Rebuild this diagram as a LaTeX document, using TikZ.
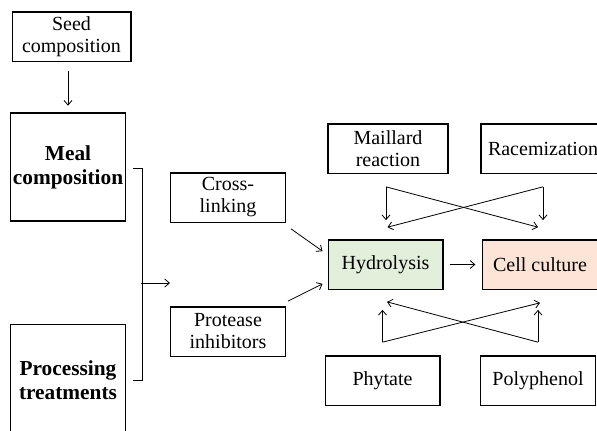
\documentclass[tikz,border=0pt]{standalone}
\usepackage{fontspec}
\setmainfont{Liberation Serif}
\usetikzlibrary{arrows.meta,positioning,calc}
\definecolor{HydroGreen}{HTML}{E2EFDA}
\definecolor{CellOrange}{HTML}{FCE4D6}

\begin{document}
\begin{tikzpicture}[
    x=0.75pt,y=-0.75pt,
    box/.style={draw,line width=1pt,minimum width=86pt,minimum height=37pt,
      inner sep=1pt,align=center,font=\fontsize{15}{16.5}\selectfont},
    bigbox/.style={box,minimum height=81pt,font=\fontsize{16}{18}\selectfont\bfseries},
    arr/.style={-{Straight Barb[length=3.5pt,width=6pt]},line width=0.6pt}
  ]
  \useasboundingbox (0,0) rectangle (597,430);
  % left column
  \node[box,minimum width=89pt] (seed) at (71.5,36.5) {Seed\\composition};
  \node[bigbox] (meal) at (68,167) {Meal\\composition};
  \node[bigbox,minimum height=83pt] (proc) at (68,380) {Processing\\treatments};
  % middle column
  \node[box] (cross) at (228,197.5) {Cross-\\linking};
  \node[box] (prot) at (228,331.5) {Protease\\inhibitors};
  % right part
  \node[box,minimum width=90pt] (maill) at (388,148.5) {Maillard\\reaction};
  \node[box,minimum width=93pt] (race) at (543,148.5) {Racemization};
  \node[box,fill=HydroGreen] (hydro) at (385.5,264.5) {Hydrolysis};
  \node[box,fill=CellOrange] (cell) at (540,264.5) {Cell culture};
  \node[box] (phyt) at (382.5,380.5) {Phytate};
  \node[box] (poly) at (538,380.5) {Polyphenol};

  \draw[arr] ([yshift=-7pt]seed.south -| meal.north) -- ([yshift=5pt]meal.north);
  % bracket
  \coordinate (bt) at ($(meal.east)+(7,1)$);
  \coordinate (bb) at ($(proc.east)+(7,0)$);
  \coordinate (bm) at (141,283);
  \coordinate (bend) at (170,283);
  \draw[line width=0.6pt] (bt) -- ++(9,0) |- (bb);
  \draw[arr] (bm) -- (bend);

  \draw[arr] ([shift={(5,6)}]cross.south east) -- ([shift={(-5,12)}]hydro.north west);
  \draw[arr] ([shift={(2,-5)}]prot.north east) -- ([shift={(-5,-6)}]hydro.south west);
  \draw[arr,shorten <=4.5pt,shorten >=5pt] (hydro) -- (cell);

  % crossing arrows above
  \coordinate (mj) at ($(maill.south)+(-2,13)$);
  \coordinate (rj) at ($(race.south)+(0,13)$);
  \coordinate (ht) at ($(hydro.north)+(0,-19)$);
  \draw[arr] (mj) -- (mj |- ht);
  \draw[arr] (mj) -- ($(cell.north)+(-2,-12)$);
  \draw[arr] (rj) -- (rj |- ht);
  \draw[arr] (rj) -- ($(hydro.north)+(2,-12)$);

  % crossing arrows below
  \coordinate (pj) at ($(phyt.north)+(0,-13)$);
  \coordinate (qj) at ($(poly.north)+(0,-13)$);
  \coordinate (hb) at ($(hydro.south)+(0,20)$);
  \draw[arr] (pj) -- (pj |- hb);
  \draw[arr] (pj) -- ($(cell.south)+(0,13)$);
  \draw[arr] (qj) -- (qj |- hb);
  \draw[arr] (qj) -- ($(hydro.south)+(1.5,12)$);
\end{tikzpicture}
\end{document}
